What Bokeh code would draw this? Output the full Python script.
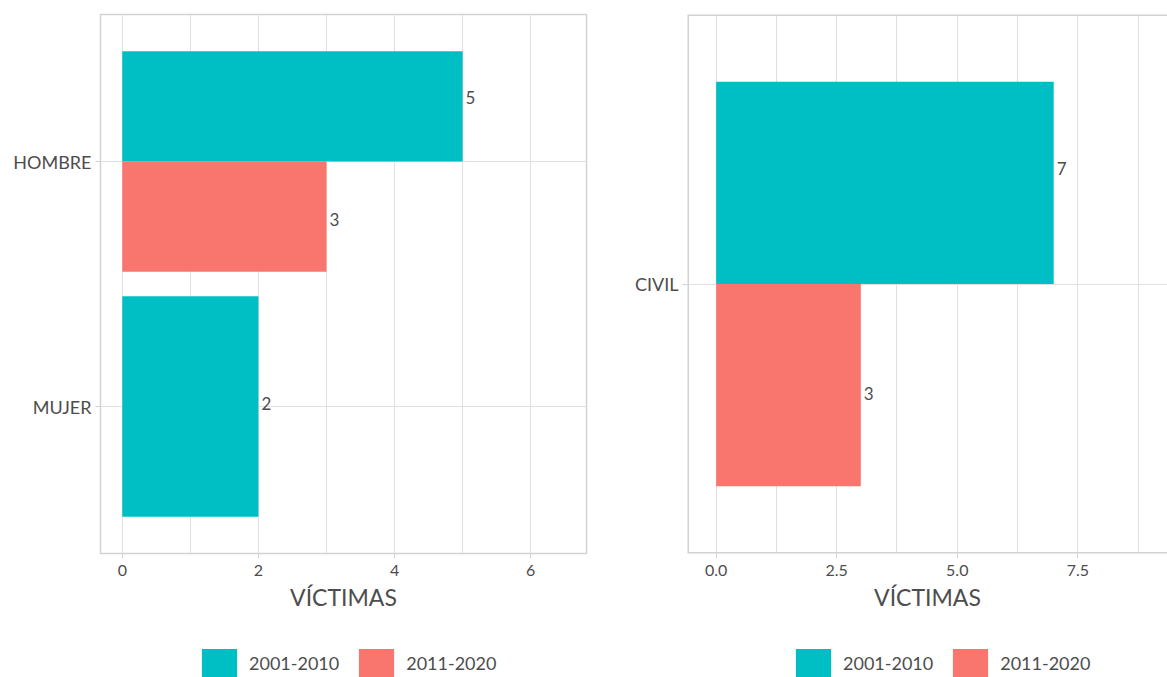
from bokeh.plotting import figure
from bokeh.models import (ColumnDataSource, FactorRange, Range1d, FixedTicker,
                          Legend, LegendItem, Span, PrintfTickFormatter)
from bokeh.layouts import row, column
from bokeh.embed import file_html
from bokeh.resources import INLINE
from bokeh.core.properties import value

# ---- data ----
series = ["2001-2010", "2011-2020"]
series_colors = ["#00BFC4", "#F8766D"]

sexo_cats = ["HOMBRE", "MUJER"]
sexo_2001_2010 = [5, 2]
sexo_2011_2020 = [3, None]

cond_cats = ["CIVIL"]
cond_2001_2010 = [7]
cond_2011_2020 = [3]

left_ticks = [0, 2, 4, 6]
left_minor = [1, 3, 5]
right_ticks = [0, 2.5, 5, 7.5]
right_minor = [1.25, 3.75, 6.25, 8.75]

FONT = "Lato"
TXT = "#4d4d4d"
GRID = "#e0e0e0"
BORDER = "#d2d2d2"

MAIN_H = 628
LEG_H = 49


def build(cats, vals, x_start, x_end, ticks, minor, fmt, width, bl, br, pad,
          full_outline):
    p = figure(width=width, height=MAIN_H,
               y_range=FactorRange(factors=list(reversed(cats)), range_padding=pad,
                                   range_padding_units="percent"),
               x_range=Range1d(x_start, x_end),
               output_backend="svg", toolbar_location=None,
               min_border_left=bl, min_border_right=br, min_border_top=14,
               min_border_bottom=75)
    sources = []
    for si, (name, col) in enumerate(zip(series, series_colors)):
        ys, xs, hs, tys, labs = [], [], [], [], []
        for ci, c in enumerate(cats):
            present = [k for k in range(len(series)) if vals[k][ci] is not None]
            if vals[si][ci] is None:
                continue
            n = len(present)
            i = present.index(si)
            bw = 0.9 / n
            off = 0.45 - (i + 0.5) * bw
            toff = 0.5 - (i + 0.5) * (1.0 / n)
            ys.append((c, off))
            tys.append((c, toff))
            xs.append(vals[si][ci])
            hs.append(bw)
            labs.append(str(vals[si][ci]))
        src = ColumnDataSource(dict(y=ys, x=xs, h=hs, ty=tys, lab=labs))
        sources.append(src)
        p.hbar(y="y", left=0, right="x", height="h", source=src,
               fill_color=col, line_color=None)
        p.text(x="x", y="ty", text="lab", source=src, x_offset=3, y_offset=-3,
               text_align="left", text_baseline="middle",
               text_font=value(FONT), text_font_size="17px", text_color=TXT)

    p.xaxis.ticker = FixedTicker(ticks=ticks, minor_ticks=minor)
    p.xaxis.formatter = PrintfTickFormatter(format=fmt)
    p.xaxis.axis_label = "VÍCTIMAS"
    for ax in (p.xaxis[0], p.yaxis[0]):
        ax.axis_line_color = None
        ax.major_tick_line_color = BORDER
        ax.major_tick_in = 0
        ax.major_tick_out = 5
        ax.minor_tick_line_color = None
        ax.major_label_text_font = FONT
        ax.major_label_text_color = TXT
    p.xaxis.major_label_text_font_size = "16px"
    p.yaxis.major_label_text_font_size = "18px"
    p.xaxis.major_label_standoff = 6
    p.yaxis.major_label_standoff = 4
    p.xaxis.axis_label_text_font = FONT
    p.xaxis.axis_label_text_font_size = "23px"
    p.xaxis.axis_label_text_font_style = "normal"
    p.xaxis.axis_label_text_color = TXT
    p.xaxis.axis_label_standoff = 4

    p.xgrid.grid_line_color = GRID
    p.xgrid.minor_grid_line_color = GRID
    p.ygrid.grid_line_color = GRID
    p.background_fill_color = "white"
    p.border_fill_color = "white"

    if full_outline:
        p.outline_line_color = BORDER
        p.outline_line_width = 1.5
    else:
        p.outline_line_color = None
        y0 = -pad * len(cats) / 2
        y1 = len(cats) + pad * len(cats) / 2
        p.add_layout(Span(location=x_start, dimension="height",
                          line_color=BORDER, line_width=3))
        p.add_layout(Span(location=y0, dimension="width",
                          line_color=BORDER, line_width=3))
        p.add_layout(Span(location=y1, dimension="width",
                          line_color=BORDER, line_width=3))
    return p, sources


def legend_fig(width, cats, sources, x_left):
    f = figure(width=width, height=LEG_H, x_range=Range1d(0, 1),
               y_range=FactorRange(factors=list(reversed(cats))),
               output_backend="svg", toolbar_location=None, min_border=0)
    f.axis.visible = False
    f.grid.visible = False
    f.outline_line_color = None
    rs = []
    for src, c in zip(sources, series_colors):
        r = f.hbar(y="y", left=0, right="x", height="h", source=src,
                   fill_color=c, line_color=None)
        r.visible = False
        rs.append(r)
    leg = Legend(items=[LegendItem(label=s, renderers=[r])
                        for s, r in zip(series, rs)],
                 orientation="horizontal", location=(x_left, -4),
                 glyph_width=44, glyph_height=36, label_standoff=8,
                 spacing=15, padding=0, margin=0,
                 label_text_font=FONT, label_text_font_size="18px",
                 label_text_color=TXT, border_line_color=None,
                 background_fill_alpha=0)
    f.add_layout(leg, "center")
    return f


left, lsrc = build(sexo_cats, [sexo_2001_2010, sexo_2011_2020], -0.32, 6.82,
                   left_ticks, left_minor, "%d", 600, 100, 14, 0.1, True)
right, rsrc = build(cond_cats, [cond_2001_2010, cond_2011_2020], -0.594, 9.36,
                    right_ticks, right_minor, "%.1f", 567, 87, 0, 0.2, False)

layout = row(column(left, legend_fig(600, sexo_cats, lsrc, 97), spacing=0),
             column(right, legend_fig(567, cond_cats, rsrc, 104), spacing=0),
             spacing=0)
open("out.html", "w").write(file_html(layout, INLINE))
